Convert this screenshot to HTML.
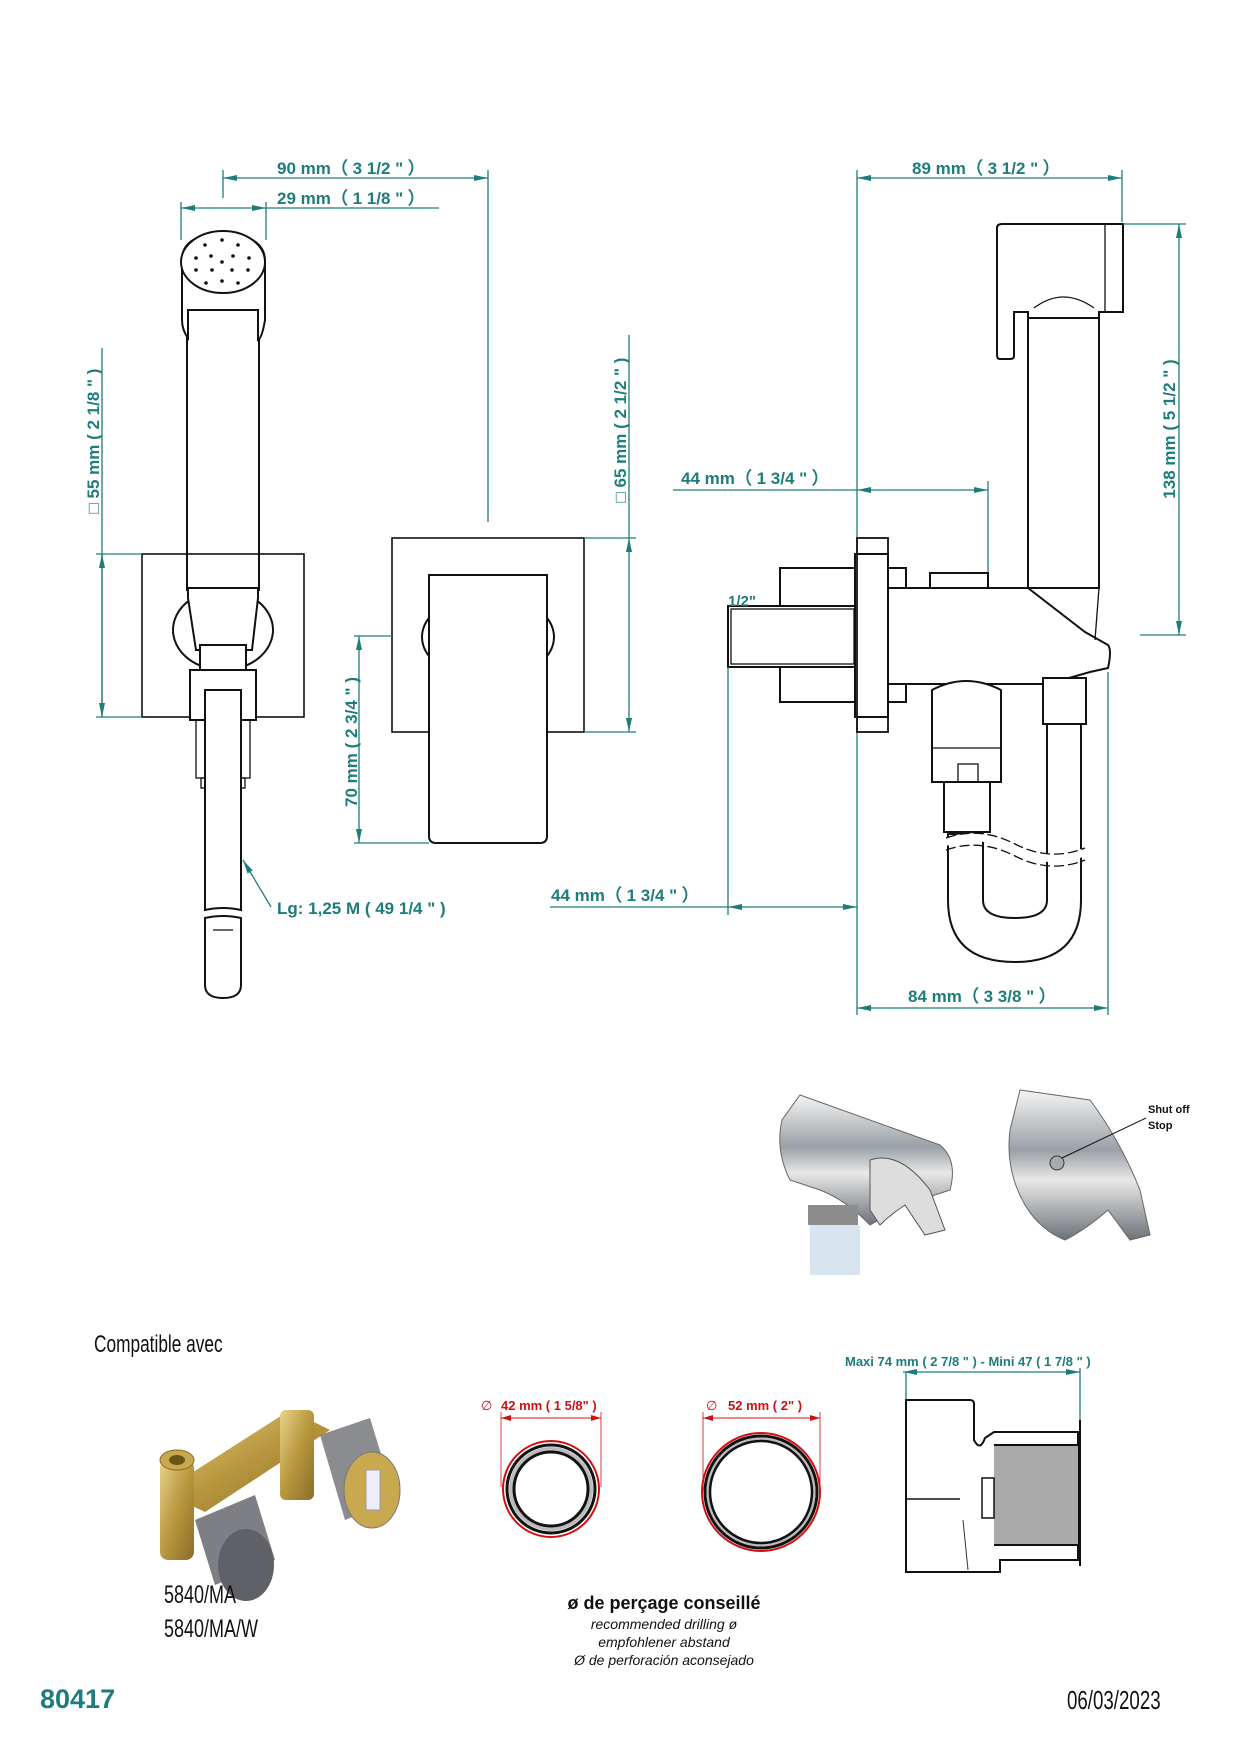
<!DOCTYPE html>
<html><head><meta charset="utf-8"><style>
html,body{margin:0;padding:0;background:#fff}
svg{display:block}
.t{font-family:"Liberation Sans",sans-serif;font-weight:bold;fill:#1e7d7a;font-size:17px}
.r{font-family:"Liberation Sans",sans-serif;font-weight:bold;fill:#d01010;font-size:13px}
.c{font-family:"Liberation Sans",sans-serif;fill:#111}
.dl{stroke:#1e7d7a;stroke-width:1.3;fill:none}
.k{stroke:#111;stroke-width:2;fill:#fff}
.k1{stroke:#111;stroke-width:1.3;fill:none}
</style></head><body>
<svg width="1236" height="1752" viewBox="0 0 1236 1752" xmlns="http://www.w3.org/2000/svg">
<defs>
<marker id="a" markerWidth="14" markerHeight="8" refX="14" refY="4" orient="auto-start-reverse" markerUnits="userSpaceOnUse"><path d="M0,1 L14,4 L0,7 Z" fill="#1e7d7a"/></marker>
<marker id="ar" markerWidth="10" markerHeight="6" refX="10" refY="3" orient="auto-start-reverse" markerUnits="userSpaceOnUse"><path d="M0,0 L10,3 L0,6 Z" fill="#d01010"/></marker>
<linearGradient id="chrome" x1="0" y1="0" x2="0" y2="1"><stop offset="0" stop-color="#f4f4f4"/><stop offset=".4" stop-color="#9aa0a6"/><stop offset=".6" stop-color="#e8e8e8"/><stop offset="1" stop-color="#6c7278"/></linearGradient>
<linearGradient id="brass" x1="0" y1="0" x2="1" y2="1"><stop offset="0" stop-color="#e8d38a"/><stop offset=".5" stop-color="#b8973e"/><stop offset="1" stop-color="#8a6e28"/></linearGradient>
</defs>

<line class="dl" x1="223" y1="178" x2="488" y2="178" marker-start="url(#a)" marker-end="url(#a)"/>
<line class="dl" x1="223" y1="170" x2="223" y2="198"/>
<line class="dl" x1="488" y1="170" x2="488" y2="522"/>
<text class="t" x="277" y="174">90 mm（ 3 1/2 " ）</text>
<line class="dl" x1="181" y1="208" x2="266" y2="208" marker-start="url(#a)" marker-end="url(#a)"/>
<line class="dl" x1="266" y1="208" x2="439" y2="208"/>
<line class="dl" x1="181" y1="202" x2="181" y2="240"/>
<line class="dl" x1="266" y1="202" x2="266" y2="240"/>
<text class="t" x="277" y="204">29 mm（ 1 1/8 " ）</text>

<rect class="k" x="187" y="300" width="72" height="290"/>
<path class="k" d="M182,262 Q180,236 222,232 Q266,236 265,262 L265,320 Q262,338 258,340 L258,310 L188,310 L188,338 Q182,330 182,320 Z"/>
<ellipse class="k" cx="223" cy="262" rx="42" ry="31"/>
<g fill="#111">
<circle cx="205" cy="245" r="1.8"/><circle cx="222" cy="240" r="1.8"/><circle cx="238" cy="245" r="1.8"/>
<circle cx="196" cy="258" r="1.8"/><circle cx="211" cy="256" r="1.8"/><circle cx="233" cy="256" r="1.8"/><circle cx="249" cy="258" r="1.8"/>
<circle cx="222" cy="262" r="1.8"/><circle cx="196" cy="270" r="1.8"/><circle cx="212" cy="270" r="1.8"/><circle cx="232" cy="270" r="1.8"/><circle cx="248" cy="270" r="1.8"/>
<circle cx="206" cy="283" r="1.8"/><circle cx="222" cy="281" r="1.8"/><circle cx="238" cy="283" r="1.8"/>
</g>
<rect class="k1" x="142" y="554" width="162" height="163" style="stroke-width:1.6"/>
<ellipse class="k" cx="223" cy="630" rx="50" ry="40"/>
<path class="k" d="M188,588 L258,588 L258,598 L252,650 L196,650 L188,598 Z"/>
<rect class="k" x="200" y="645" width="46" height="45"/>
<rect class="k" x="190" y="670" width="66" height="50"/>
<rect class="k1" x="196" y="720" width="54" height="58"/>
<rect class="k1" x="201" y="778" width="44" height="10"/>
<path class="k" d="M205,690 L241,690 L241,910 Q223,906 205,910 Z"/>
<path class="k" d="M205,918 Q223,914 241,918 L241,985 Q241,998 223,998 Q205,998 205,985 Z"/>
<line class="k1" x1="213" y1="930" x2="233" y2="930"/>
<text class="t" x="277" y="914">Lg: 1,25 M ( 49 1/4 " )</text>
<line class="dl" x1="271" y1="907" x2="243" y2="860" marker-end="url(#a)"/>
<line class="dl" x1="102" y1="348" x2="102" y2="717"/>
<line class="dl" x1="102" y1="554" x2="102" y2="717" marker-start="url(#a)" marker-end="url(#a)"/>
<line class="dl" x1="96" y1="554" x2="142" y2="554"/>
<line class="dl" x1="96" y1="717" x2="142" y2="717"/>
<text class="t" transform="translate(99,441) rotate(-90)" text-anchor="middle">□ 55 mm ( 2 1/8 " )</text>

<rect class="k1" x="392" y="538" width="192" height="194" style="stroke-width:1.6"/>
<ellipse class="k" cx="488" cy="637" rx="66" ry="43"/>
<path class="k" d="M429,575 L547,575 L547,836 Q547,843 540,843 L436,843 Q429,843 429,836 Z"/>
<line class="dl" x1="359" y1="636" x2="359" y2="843" marker-start="url(#a)" marker-end="url(#a)"/>
<line class="dl" x1="354" y1="636" x2="392" y2="636"/>
<line class="dl" x1="354" y1="843" x2="429" y2="843"/>
<text class="t" transform="translate(357,742) rotate(-90)" text-anchor="middle">70 mm ( 2 3/4 " )</text>
<line class="dl" x1="629" y1="335" x2="629" y2="538"/>
<line class="dl" x1="629" y1="538" x2="629" y2="732" marker-start="url(#a)" marker-end="url(#a)"/>
<line class="dl" x1="584" y1="538" x2="636" y2="538"/>
<line class="dl" x1="584" y1="732" x2="636" y2="732"/>
<text class="t" transform="translate(626,430) rotate(-90)" text-anchor="middle">□ 65 mm ( 2 1/2 " )</text>

<line class="dl" x1="857" y1="178" x2="1122" y2="178" marker-start="url(#a)" marker-end="url(#a)"/>
<line class="dl" x1="857" y1="170" x2="857" y2="1015"/>
<line class="dl" x1="1122" y1="170" x2="1122" y2="222"/>
<text class="t" x="912" y="174">89 mm（ 3 1/2 " ）</text>
<path class="k" d="M997,228 Q997,224 1002,224 L1123,224 L1123,312 L1099,312 L1099,320 L1028,320 L1028,312 L1014,312 L1014,356 Q1014,359 1010,359 L1000,359 Q997,359 997,355 Z"/>
<line class="k1" x1="1105" y1="224" x2="1105" y2="312"/>
<path class="k1" d="M1034,308 Q1063,286 1094,308"/>
<rect class="k" x="1028" y="318" width="71" height="270"/>
<line class="dl" x1="1179" y1="224" x2="1179" y2="635" marker-start="url(#a)" marker-end="url(#a)"/>
<line class="dl" x1="1123" y1="224" x2="1186" y2="224"/>
<line class="dl" x1="1140" y1="635" x2="1186" y2="635"/>
<text class="t" transform="translate(1175,429) rotate(-90)" text-anchor="middle">138 mm ( 5 1/2 " )</text>
<line class="dl" x1="673" y1="490" x2="857" y2="490"/>
<line class="dl" x1="857" y1="490" x2="988" y2="490" marker-start="url(#a)" marker-end="url(#a)"/>
<line class="dl" x1="988" y1="481" x2="988" y2="588"/>
<text class="t" x="681" y="484">44 mm（ 1 3/4 " ）</text>
<rect class="k" x="780" y="568" width="77" height="134"/>
<rect class="k" x="728" y="606" width="129" height="61"/>
<rect class="k1" x="731" y="609" width="123" height="55"/>
<text class="t" x="728" y="606" style="font-size:15px">1/2"</text>
<rect class="k" x="888" y="568" width="18" height="134"/>
<rect class="k" x="930" y="573" width="58" height="16"/>
<path class="k" d="M888,588 L1028,588 L1085,632 L1108,645 Q1112,650 1108,668 L1090,672 L1048,684 L888,684 Z"/>
<rect class="k" x="855" y="554" width="33" height="163" style="stroke-width:2"/>
<rect class="k1" x="857" y="538" width="31" height="194" style="stroke-width:1.8"/>
<line class="k1" x1="1099" y1="588" x2="1095" y2="640"/>
<path class="k" d="M932,690 Q966,672 1001,690 L1001,782 L932,782 Z"/>
<line class="k1" x1="932" y1="748" x2="1001" y2="748"/>
<rect class="k" x="944" y="782" width="46" height="50"/>
<rect class="k1" x="958" y="764" width="20" height="18"/>
<rect class="k" x="1043" y="678" width="43" height="46"/>
<path class="k" d="M948,834 L983,834 L983,900 Q983,918 1015,918 Q1047,918 1047,900 L1047,724 L1081,724 L1081,900 Q1081,962 1015,962 Q948,962 948,900 Z"/>
<path d="M946,842 Q980,830 1015,848 Q1050,866 1085,852" stroke="#fff" stroke-width="8" fill="none"/>
<path class="k1" d="M946,838 Q980,826 1015,844 Q1050,862 1085,848" stroke-dasharray="10 4"/>
<path class="k1" d="M946,850 Q980,838 1015,856 Q1050,874 1085,860" stroke-dasharray="10 4"/>
<line class="dl" x1="728" y1="667" x2="728" y2="915"/>
<line class="dl" x1="728" y1="907" x2="857" y2="907" marker-start="url(#a)" marker-end="url(#a)"/>
<line class="dl" x1="550" y1="907" x2="728" y2="907"/>
<text class="t" x="551" y="901">44 mm（ 1 3/4 " ）</text>
<line class="dl" x1="1108" y1="672" x2="1108" y2="1015"/>
<line class="dl" x1="857" y1="1008" x2="1108" y2="1008" marker-start="url(#a)" marker-end="url(#a)"/>
<text class="t" x="908" y="1002">84 mm（ 3 3/8 " ）</text>

<g>
<path d="M800,1095 L940,1145 Q958,1160 950,1190 L905,1205 L870,1225 Q846,1200 820,1190 L790,1180 Q775,1150 782,1120 Z" fill="url(#chrome)" stroke="#666" stroke-width="1"/>
<path d="M870,1160 Q900,1150 930,1190 L945,1230 L925,1235 L905,1205 Q890,1215 880,1225 L870,1210 Z" fill="#ddd" stroke="#555"/>
<rect x="808" y="1205" width="50" height="20" fill="#8c8c8c"/>
<rect x="810" y="1225" width="50" height="50" fill="#d8e4ef"/>
</g>
<g>
<path d="M1020,1090 L1090,1100 Q1120,1140 1140,1190 L1150,1235 L1130,1240 L1108,1210 Q1085,1230 1065,1240 Q1040,1230 1025,1205 Q1005,1170 1010,1130 Z" fill="url(#chrome)" stroke="#666"/>
<circle cx="1057" cy="1163" r="7" fill="#aaa" stroke="#333"/>
<line x1="1062" y1="1158" x2="1146" y2="1118" stroke="#111" stroke-width="1"/>
</g>
<text class="c" x="1148" y="1113" style="font-size:11px;font-weight:bold">Shut off</text>
<text class="c" x="1148" y="1129" style="font-size:11px;font-weight:bold">Stop</text>

<text class="c" x="94" y="1352" style="font-size:24px" transform="translate(94,1352) scale(0.72,1) translate(-94,-1352)">Compatible avec</text>
<g>
<path d="M162,1492 L290,1410 L330,1430 L205,1512 Z" fill="url(#brass)"/>
<rect x="160" y="1460" width="34" height="100" rx="8" fill="url(#brass)"/>
<ellipse cx="177" cy="1460" rx="17" ry="10" fill="#c9a94f" stroke="#8a6e28"/>
<ellipse cx="177" cy="1460" rx="8" ry="5" fill="#6a5218"/>
<rect x="280" y="1410" width="34" height="90" rx="6" fill="url(#brass)"/>
<path d="M195,1520 L255,1495 L275,1560 L215,1585 Z" fill="#7d7f84"/>
<ellipse cx="246" cy="1565" rx="28" ry="36" fill="#5f6166"/>
<path d="M320,1435 L370,1418 L395,1500 L345,1520 Z" fill="#8a8c90"/>
<ellipse cx="372" cy="1490" rx="28" ry="38" fill="#c9a94f" stroke="#777"/>
<rect x="366" y="1470" width="14" height="40" fill="#eef" stroke="#99a"/>
</g>
<text class="c" x="164" y="1603" style="font-size:25px" transform="translate(164,1603) scale(0.72,1) translate(-164,-1603)">5840/MA</text>
<text class="c" x="164" y="1637" style="font-size:25px" transform="translate(164,1637) scale(0.72,1) translate(-164,-1637)">5840/MA/W</text>

<text class="r" x="481" y="1410" style="font-weight:normal">∅</text>
<text class="r" x="501" y="1410">42 mm ( 1 5/8" )</text>
<line x1="501" y1="1418" x2="601" y2="1418" stroke="#d01010" stroke-width="1" marker-start="url(#ar)" marker-end="url(#ar)"/>
<line x1="501" y1="1412" x2="501" y2="1487" stroke="#d01010" stroke-width="0.8"/>
<line x1="601" y1="1412" x2="601" y2="1487" stroke="#d01010" stroke-width="0.8"/>
<circle cx="551" cy="1489" r="48" fill="none" stroke="#d01010" stroke-width="2"/>
<circle cx="551" cy="1489" r="44" fill="none" stroke="#111" stroke-width="3"/>
<circle cx="551" cy="1489" r="40" fill="none" stroke="#bbb" stroke-width="4"/>
<circle cx="551" cy="1489" r="37" fill="none" stroke="#111" stroke-width="3"/>
<text class="r" x="706" y="1410" style="font-weight:normal">∅</text>
<text class="r" x="728" y="1410">52 mm ( 2" )</text>
<line x1="703" y1="1418" x2="820" y2="1418" stroke="#d01010" stroke-width="1" marker-start="url(#ar)" marker-end="url(#ar)"/>
<line x1="703" y1="1412" x2="703" y2="1490" stroke="#d01010" stroke-width="0.8"/>
<line x1="820" y1="1412" x2="820" y2="1490" stroke="#d01010" stroke-width="0.8"/>
<circle cx="761" cy="1492" r="59" fill="none" stroke="#d01010" stroke-width="2"/>
<circle cx="761" cy="1492" r="56" fill="none" stroke="#111" stroke-width="3"/>
<circle cx="761" cy="1492" r="53" fill="none" stroke="#bbb" stroke-width="3"/>
<circle cx="761" cy="1492" r="51" fill="none" stroke="#111" stroke-width="2.5"/>
<text class="c" x="664" y="1609" text-anchor="middle" style="font-size:18px;font-weight:bold">ø de perçage conseillé</text>
<text class="c" x="664" y="1629" text-anchor="middle" style="font-size:14px;font-style:italic">recommended drilling ø</text>
<text class="c" x="664" y="1647" text-anchor="middle" style="font-size:14px;font-style:italic">empfohlener abstand</text>
<text class="c" x="664" y="1665" text-anchor="middle" style="font-size:14px;font-style:italic">Ø de perforación aconsejado</text>

<text class="t" x="845" y="1366" style="font-size:13px">Maxi  74 mm ( 2 7/8 " )  - Mini 47 ( 1 7/8 " )</text>
<line class="dl" x1="903" y1="1372" x2="1080" y2="1372" marker-start="url(#a)" marker-end="url(#a)"/>
<line class="dl" x1="906" y1="1372" x2="906" y2="1400"/>
<line class="dl" x1="1080" y1="1368" x2="1080" y2="1420"/>
<path d="M906,1400 L970,1400 Q974,1400 974,1404 L974,1440 Q980,1452 985,1438 L994,1432 L1078,1432 L1078,1560 L1000,1560 L1000,1572 L906,1572 Z" fill="#fff" stroke="#111" stroke-width="2"/>
<rect x="994" y="1445" width="84" height="100" fill="#aaa"/>
<line x1="994" y1="1445" x2="1078" y2="1445" stroke="#111" stroke-width="2"/>
<line x1="994" y1="1545" x2="1078" y2="1545" stroke="#111" stroke-width="2"/>
<line x1="1080" y1="1420" x2="1080" y2="1566" stroke="#111" stroke-width="2"/>
<line x1="906" y1="1499" x2="960" y2="1499" stroke="#111" stroke-width="1.5"/>
<rect x="982" y="1478" width="12" height="40" fill="none" stroke="#111" stroke-width="1.5"/>
<line x1="963" y1="1520" x2="968" y2="1570" stroke="#333" stroke-width="1"/>

<text x="40" y="1708" style="font-family:'Liberation Sans',sans-serif;font-weight:bold;font-size:27px;fill:#1e7d7a">80417</text>
<text class="c" x="1067" y="1709" style="font-size:26px" transform="translate(1067,1709) scale(0.72,1) translate(-1067,-1709)">06/03/2023</text>
</svg>
</body></html>
